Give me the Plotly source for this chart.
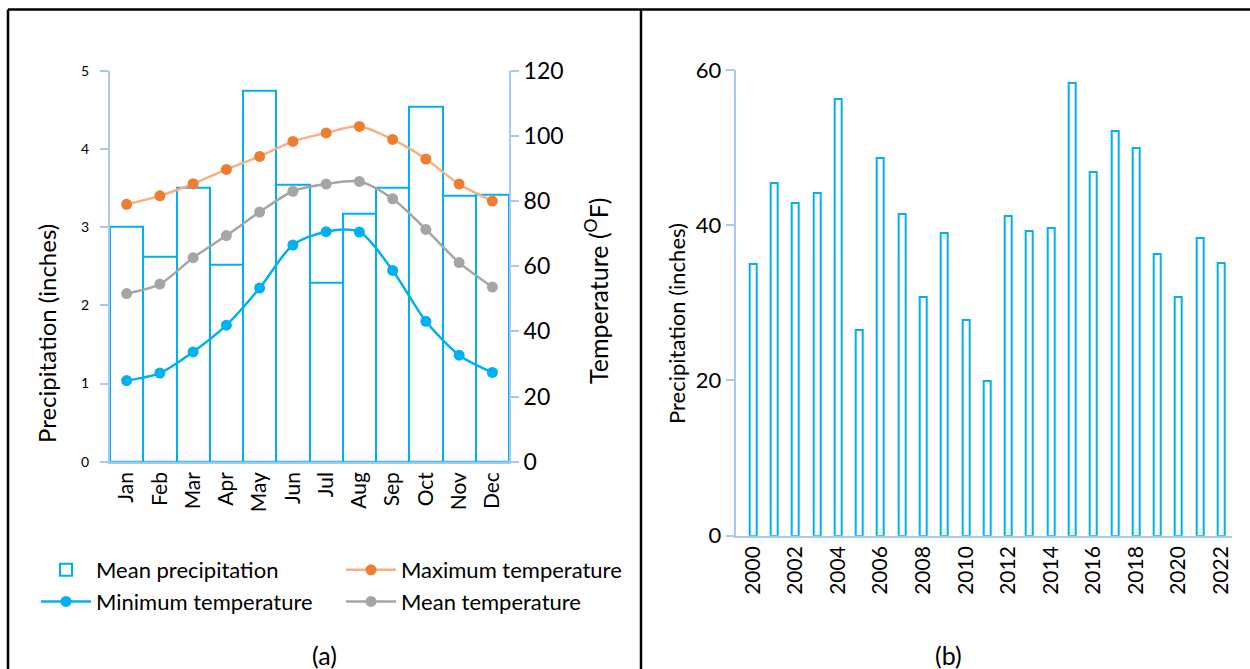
import plotly.graph_objects as go

W, H = 1250, 669

months = ["Jan", "Feb", "Mar", "Apr", "May", "Jun", "Jul", "Aug", "Sep", "Oct", "Nov", "Dec"]
mean_precip = [3.00, 2.62, 3.51, 2.52, 4.74, 3.54, 2.29, 3.17, 3.50, 4.54, 3.40, 3.41]
max_temp = [79.0, 81.6, 85.3, 89.7, 93.7, 98.3, 100.9, 102.9, 98.9, 92.9, 85.2, 80.0]
min_temp = [24.9, 27.2, 33.7, 41.9, 53.3, 66.5, 70.6, 70.5, 58.7, 43.1, 32.7, 27.4]
mean_temp = [51.6, 54.5, 62.6, 69.4, 76.6, 83.0, 85.2, 86.0, 80.7, 71.3, 61.1, 53.6]

years = list(range(2000, 2023))
annual_precip = [35.0, 45.5, 42.9, 44.1, 56.2, 26.5, 48.6, 41.5, 30.7, 39.0,
                 27.8, 19.9, 41.2, 39.3, 39.6, 58.3, 46.8, 52.2, 50.0, 36.3,
                 30.7, 38.4, 35.1]
year_ticks = list(range(2000, 2023, 2))

FONT = "Lato"
BAR_BLUE = "#00B0F0"
AXIS_BLUE = "#A9C8EC"


def px(x):
    return x / W


def py(y):
    return 1 - y / H


fig = go.Figure()

# ---- panel (a)
fig.add_trace(go.Bar(
    x=months, y=mean_precip, name="Mean precipitation",
    marker=dict(color="white", line=dict(color=BAR_BLUE, width=2)),
    xaxis="x", yaxis="y", legend="legend", legendgroup="g1",
))
fig.add_trace(go.Scatter(
    x=months, y=max_temp, name="Maximum temperature", mode="lines+markers",
    line=dict(color="#F4B183", width=2.5, shape="spline", smoothing=0.8),
    marker=dict(color="#ED7D31", size=11),
    xaxis="x", yaxis="y2", legend="legend2", legendgroup="g2",
))
fig.add_trace(go.Scatter(
    x=months, y=min_temp, name="Minimum temperature", mode="lines+markers",
    line=dict(color=BAR_BLUE, width=2.5, shape="spline", smoothing=0.8),
    marker=dict(color=BAR_BLUE, size=11),
    xaxis="x", yaxis="y2", legend="legend", legendgroup="g3",
))
fig.add_trace(go.Scatter(
    x=months, y=mean_temp, name="Mean temperature", mode="lines+markers",
    line=dict(color="#A5A5A5", width=2.5, shape="spline", smoothing=0.8),
    marker=dict(color="#A5A5A5", size=11),
    xaxis="x", yaxis="y2", legend="legend2", legendgroup="g4",
))

# ---- panel (b)
fig.add_trace(go.Bar(
    x=years, y=annual_precip, name="Annual precipitation", showlegend=False,
    width=0.33,
    marker=dict(color="white", line=dict(color=BAR_BLUE, width=2)),
    xaxis="x3", yaxis="y3",
))

axis_common = dict(showgrid=False, zeroline=False, linecolor=AXIS_BLUE, linewidth=2,
                   tickcolor=AXIS_BLUE, tickwidth=2, ticklen=8, ticks="outside",
                   automargin=False, fixedrange=True)

legend_common = dict(orientation="v", yanchor="top", xanchor="left", y=py(549),
                     font=dict(size=22, family=FONT), traceorder="normal",
                     tracegroupgap=6, itemwidth=50, bgcolor="rgba(0,0,0,0)")

fig.update_layout(
    width=W, height=H,
    margin=dict(l=0, r=0, t=0, b=0, autoexpand=False),
    paper_bgcolor="white", plot_bgcolor="rgba(0,0,0,0)",
    font=dict(family=FONT, color="black"),
    bargap=0,
    xaxis=dict(domain=[px(110), px(509)], range=[-0.5, 11.5], showline=True,
               linecolor=AXIS_BLUE, linewidth=2,
               showgrid=False, zeroline=False, ticks="", tickangle=-90, automargin=False,
               tickfont=dict(size=21, family=FONT), fixedrange=True),
    yaxis=dict(domain=[py(461.7), py(70.7)], range=[0, 5], dtick=1, showline=True,
               tickfont=dict(size=14, family=FONT), ticklabelstandoff=8, **axis_common),
    yaxis2=dict(overlaying="y", side="right", anchor="x", range=[0, 120], dtick=20,
                showline=True, tickfont=dict(size=23, family=FONT), **axis_common),
    xaxis3=dict(domain=[px(735.7), px(1232.3)], anchor="y3", range=[1999.19, 2022.52],
                tickvals=year_ticks, ticktext=[str(v) for v in year_ticks], tickangle=-90,
                showline=True, linecolor=AXIS_BLUE, linewidth=2, showgrid=False,
                zeroline=False, ticks="", automargin=False, fixedrange=True,
                tickfont=dict(size=21, family=FONT)),
    yaxis3=dict(domain=[py(535.7), py(70)], anchor="x3", range=[0, 60], dtick=20,
                showline=True, tickfont=dict(size=22, family=FONT), **axis_common),
    legend=dict(x=px(36), **legend_common),
    legend2=dict(x=px(341), **legend_common),
    showlegend=True,
)

annotations = [
    dict(text="Precipitation (inches)", x=px(46), y=py(334), textangle=-90, font=dict(size=24)),
    dict(text="Temperature (<sup>O</sup>F)", x=px(597), y=py(291), textangle=-90, font=dict(size=25)),
    dict(text="Precipitation (inches)", x=px(676), y=py(323), textangle=-90, font=dict(size=22)),
    dict(text="(a)", x=px(324), y=py(655), font=dict(size=25)),
    dict(text="(b)", x=px(948), y=py(655), font=dict(size=25)),
]
for a in annotations:
    a.update(xref="paper", yref="paper", showarrow=False, xanchor="center", yanchor="middle")
    a["font"].update(family=FONT, color="black")
fig.update_layout(annotations=annotations)

border = dict(color="black", width=2.5)
fig.update_layout(shapes=[
    dict(type="line", xref="paper", yref="paper", x0=px(8), x1=px(1260), y0=py(9.5), y1=py(9.5), line=border),
    dict(type="line", xref="paper", yref="paper", x0=px(8), x1=px(8), y0=py(9.5), y1=py(680), line=border),
    dict(type="line", xref="paper", yref="paper", x0=px(641), x1=px(641), y0=py(9.5), y1=py(680), line=border),
])

fig.write_html("out.html", config={"displayModeBar": False},
               post_script="document.body.style.margin='0';document.body.style.overflow='hidden';")
